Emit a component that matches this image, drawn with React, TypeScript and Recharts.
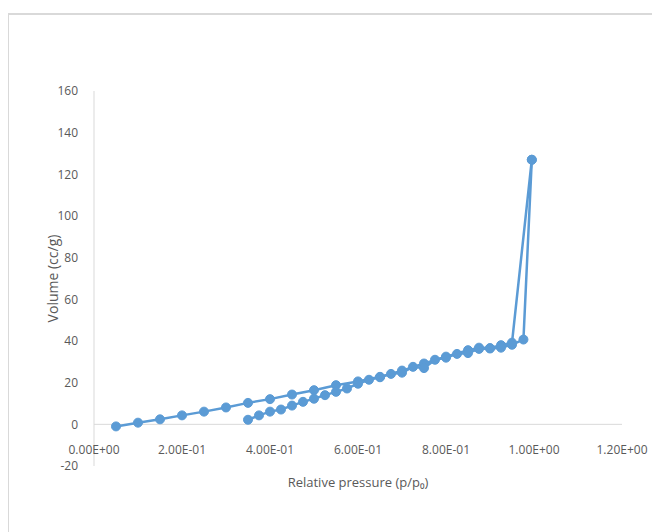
import { LineChart, Line, XAxis, YAxis, ReferenceLine } from "recharts"

const branchOneP = [0.05, 0.1, 0.15, 0.2, 0.25, 0.3, 0.35, 0.4, 0.45, 0.5, 0.55, 0.6, 0.65, 0.7, 0.75, 0.8, 0.85, 0.875, 0.9, 0.925, 0.95, 0.995]
const branchOneV = [-1, 0.8, 2.4, 4.3, 6.1, 8.1, 10.3, 12.1, 14.3, 16.4, 18.8, 20.6, 22.8, 25.8, 29.2, 32.5, 35.6, 36.8, 36.6, 38, 39.2, 127]

const branchTwoP = [0.35, 0.375, 0.4, 0.425, 0.45, 0.475, 0.5, 0.525, 0.55, 0.575, 0.6, 0.625, 0.65, 0.675, 0.7, 0.725, 0.75, 0.775, 0.8, 0.825, 0.85, 0.875, 0.9, 0.925, 0.95, 0.976, 0.995]
const branchTwoV = [2.2, 4.3, 6.1, 7.1, 9, 10.8, 12.3, 14, 15.6, 17.2, 19.5, 21.4, 22.6, 24.2, 24.8, 27.6, 27, 31, 32, 33.8, 34.2, 36.2, 36.4, 36.8, 38.2, 40.7, 127]

const xTicks = [0, 0.2, 0.4, 0.6, 0.8, 1.0, 1.2]
const yTicks = [-20, 0, 20, 40, 60, 80, 100, 120, 140, 160]

const branchOne = branchOneP.map((p, i) => ({ p, v: branchOneV[i] }))
const branchTwo = branchTwoP.map((p, i) => ({ p, v: branchTwoV[i] }))

const blue = "#5B9BD5"
const grey = "#595959"
const font = "'Liberation Sans Narrow', 'Open Sans', 'Noto Sans', sans-serif"

// Excel style 1.20E+00
function sci(n: number) {
  const [m, e] = n.toExponential(2).split("e")
  const exp = Number(e)
  const sign = exp < 0 ? "-" : "+"
  return `${m}E${sign}${String(Math.abs(exp)).padStart(2, "0")}`
}

// x labels sit just under the zero line, not at the bottom of the plot
function XTick(props: any) {
  const { x, y, payload } = props
  return (
    <text x={x} y={y - 20} textAnchor="middle" fill={grey} fontSize={12} fontFamily={font}>
      {sci(payload.value)}
    </text>
  )
}

export default function App() {
  return (
    <div style={{ position: "relative", width: 652, height: 524 }}>
      <div
        style={{
          position: "absolute",
          left: 0,
          top: 5,
          width: 652,
          height: 519,
          borderTop: "2px solid #d9d9d9",
          borderLeft: "1px solid #d9d9d9",
          boxSizing: "border-box",
        }}
      />
      <LineChart
        width={652}
        height={524}
        margin={{ top: 83, right: 38, left: 0, bottom: 0 }}
        style={{ position: "absolute", left: 0, top: 0 }}
      >
        <XAxis
          type="number"
          dataKey="p"
          domain={[0, 1.2]}
          ticks={xTicks}
          axisLine={false}
          tickLine={false}
          tick={<XTick />}
          height={66}
          allowDuplicatedCategory={false}
          label={{ value: "Relative pressure (p/p\u2080)", position: "insideBottom", offset: 45, fill: grey, fontSize: 13, fontFamily: font }}
        />
        <YAxis
          type="number"
          dataKey="v"
          domain={[-20, 160]}
          ticks={yTicks}
          width={86}
          axisLine={{ stroke: "#d9d9d9" }}
          tickLine={false}
          tickMargin={10}
          tick={{ fill: grey, fontSize: 12, fontFamily: font }}
          label={{ value: "Volume (cc/g)", angle: -90, position: "center", dx: 2, fill: grey, fontSize: 14, fontFamily: font }}
        />
        <ReferenceLine y={0} stroke="#d9d9d9" strokeWidth={1} />
        <Line
          data={branchOne}
          dataKey="v"
          type="linear"
          stroke={blue}
          strokeWidth={2.5}
          dot={{ r: 4.5, fill: blue, stroke: blue, strokeWidth: 1 }}
          isAnimationActive={false}
        />
        <Line
          data={branchTwo}
          dataKey="v"
          type="linear"
          stroke={blue}
          strokeWidth={2.5}
          dot={{ r: 4.5, fill: blue, stroke: blue, strokeWidth: 1 }}
          isAnimationActive={false}
        />
      </LineChart>
    </div>
  )
}
